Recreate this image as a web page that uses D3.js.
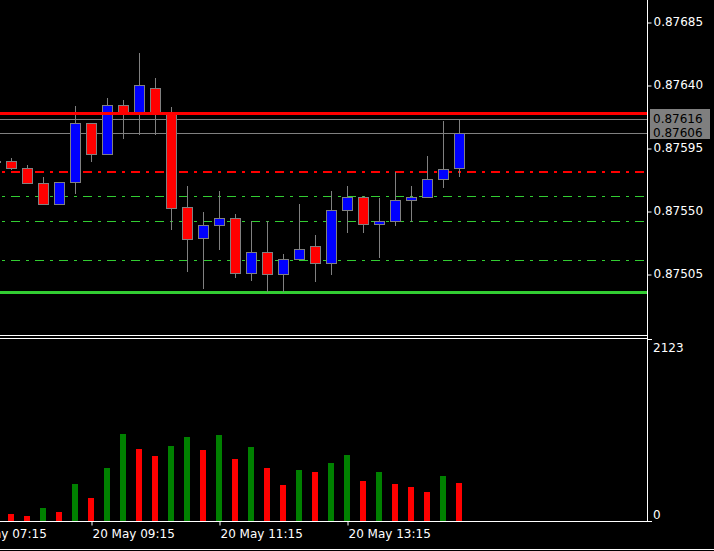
<!DOCTYPE html>
<html>
<head>
<meta charset="utf-8">
<script src="https://cdn.jsdelivr.net/npm/d3@7"></script>
<style>
  html, body { margin: 0; padding: 0; background: #000; }
  svg { display: block; }
  text { font-family: "DejaVu Sans", sans-serif; font-size: 12px; }
</style>
</head>
<body>
<div id="chart"></div>
<script>
// 15 minute bars, 20 May
const times   = ["07:45","08:00","08:15","08:30","08:45","09:00","09:15","09:30","09:45","10:00",
                 "10:15","10:30","10:45","11:00","11:15","11:30","11:45","12:00","12:15","12:30",
                 "12:45","13:00","13:15","13:30","13:45","14:00","14:15","14:30","14:45","15:00"]
const opens   = [0.87586,0.87586,0.87581,0.87570,0.87555,0.87571,0.87613,0.87591,0.87626,0.87620,
                 0.87638,0.87620,0.87553,0.87531,0.87540,0.87545,0.87506,0.87521,0.87505,0.87516,
                 0.87525,0.87513,0.87551,0.87560,0.87541,0.87543,0.87558,0.87560,0.87573,0.87581]
const highs   = [0.87587,0.87588,0.87583,0.87574,0.87571,0.87625,0.87613,0.87631,0.87629,0.87663,
                 0.87645,0.87624,0.87568,0.87549,0.87564,0.87548,0.87543,0.87543,0.87519,0.87555,
                 0.87533,0.87564,0.87568,0.87561,0.87559,0.87578,0.87568,0.87589,0.87614,0.87616]
const lows    = [0.87585,0.87580,0.87570,0.87555,0.87555,0.87563,0.87586,0.87591,0.87602,0.87605,
                 0.87605,0.87537,0.87507,0.87495,0.87523,0.87503,0.87501,0.87493,0.87493,0.87516,
                 0.87500,0.87505,0.87535,0.87535,0.87517,0.87540,0.87543,0.87560,0.87567,0.87575]
const closes  = [0.87586,0.87581,0.87570,0.87555,0.87571,0.87613,0.87591,0.87626,0.87621,0.87640,
                 0.87620,0.87552,0.87530,0.87540,0.87545,0.87506,0.87521,0.87505,0.87516,0.87523,
                 0.87513,0.87551,0.87560,0.87541,0.87543,0.87558,0.87560,0.87573,0.87580,0.87606]
const volumes = [120,82,58,152,105,432,268,618,1015,840,
                 758,875,980,828,1003,723,863,618,420,595,
                 572,677,770,467,572,432,397,338,525,443]

// horizontal levels
const resistance = 0.87620
const support = 0.87492
const pivot = 0.87578
const midLevels = [0.87561, 0.87543, 0.87515]
const ask = 0.87616
const bid = 0.87606

// axis ticks
const priceTicks = [0.87505, 0.87550, 0.87595, 0.87640, 0.87685]
const volumeTicks = [0, 2123]
const timeTicks = ["07:15", "09:15", "11:15", "13:15"]

const WIDTH = 714, HEIGHT = 551
const plotRight = 647
const mainBottom = 336
const volTop = 339, volBottom = 521

const parseTime = d3.timeParse("%Y-%m-%d %H:%M")
const toDate = t => parseTime("2024-05-20 " + t)

const bars = times.map((t, i) => ({
    date: toDate(t), open: opens[i], high: highs[i], low: lows[i], close: closes[i],
    volume: volumes[i], prev: i > 0 ? volumes[i - 1] : volumes[i]
}))

const svg = d3.select("#chart").append("svg")
    .attr("width", WIDTH).attr("height", HEIGHT)
    .style("background", "#000")

const x = d3.scaleTime()
    .domain([toDate("08:00"), toDate("15:00")])
    .range([11, 459])

const y = d3.scaleLinear()
    .domain([0.87505, 0.87685])
    .range([274, 22])

const yVol = d3.scaleLinear()
    .domain([0, 2123])
    .range([volBottom, volTop])

const px = v => Math.round(v) + 0.5

svg.append("clipPath").attr("id", "mainClip")
    .append("rect").attr("x", 0).attr("y", 0).attr("width", plotRight).attr("height", mainBottom)

const main = svg.append("g").attr("clip-path", "url(#mainClip)")

// dashed levels (behind candles)
const dash = "3,6,9,6"
main.selectAll(".mid")
    .data(midLevels)
    .enter().append("line")
    .attr("x1", 0).attr("x2", plotRight)
    .attr("y1", d => px(y(d))).attr("y2", d => px(y(d)))
    .attr("stroke", "#32cd32").attr("stroke-width", 1)
    .attr("stroke-dasharray", dash).attr("stroke-dashoffset", -2)

main.append("line")
    .attr("x1", 0).attr("x2", plotRight)
    .attr("y1", Math.round(y(pivot))).attr("y2", Math.round(y(pivot)))
    .attr("stroke", "#ff0000").attr("stroke-width", 2)
    .attr("stroke-dasharray", dash).attr("stroke-dashoffset", -2)

// bid / ask lines
main.selectAll(".quote")
    .data([ask, bid])
    .enter().append("line")
    .attr("x1", 0).attr("x2", plotRight)
    .attr("y1", d => px(y(d))).attr("y2", d => px(y(d)))
    .attr("stroke", "#808080").attr("stroke-width", 1)

main.append("line")
    .attr("x1", 0).attr("x2", plotRight)
    .attr("y1", px(y(support))).attr("y2", px(y(support)))
    .attr("stroke", "#32cd32").attr("stroke-width", 3)

// candles
const candle = main.selectAll(".candle")
    .data(bars)
    .enter().append("g")

candle.append("line")
    .attr("x1", d => px(x(d.date))).attr("x2", d => px(x(d.date)))
    .attr("y1", d => Math.round(y(d.high))).attr("y2", d => Math.round(y(d.low)) + 1)
    .attr("stroke", "#808080")

candle.append("rect")
    .attr("x", d => Math.round(x(d.date)) - 5 + 0.5)
    .attr("y", d => px(y(Math.max(d.open, d.close))))
    .attr("width", 10)
    .attr("height", d => Math.max(1, Math.round(Math.abs(y(d.open) - y(d.close)))))
    .attr("fill", d => d.close >= d.open ? "#0000ff" : "#ff0000")
    .attr("stroke", "#808080")

// resistance on top
main.append("line")
    .attr("x1", 0).attr("x2", plotRight)
    .attr("y1", px(y(resistance))).attr("y2", px(y(resistance)))
    .attr("stroke", "#ff0000").attr("stroke-width", 3)

// volumes
svg.append("g").selectAll("rect")
    .data(bars)
    .enter().append("rect")
    .attr("x", d => Math.round(x(d.date)) - 3)
    .attr("y", d => Math.round(yVol(d.volume)))
    .attr("width", 6)
    .attr("height", d => volBottom - Math.round(yVol(d.volume)))
    .attr("fill", d => d.volume > d.prev ? "#008000" : "#ff0000")
    .attr("clip-path", "url(#volClip)")

svg.append("clipPath").attr("id", "volClip")
    .append("rect").attr("x", 0).attr("y", volTop).attr("width", plotRight).attr("height", volBottom - volTop)

// frame
const frame = svg.append("g").attr("stroke", "#fff").attr("stroke-width", 1).attr("shape-rendering", "crispEdges")
frame.append("line").attr("x1", 0).attr("x2", plotRight + 1).attr("y1", 335.5).attr("y2", 335.5)
frame.append("line").attr("x1", 0).attr("x2", plotRight + 1).attr("y1", 338.5).attr("y2", 338.5)
frame.append("line").attr("x1", plotRight + 0.5).attr("x2", plotRight + 0.5).attr("y1", 0).attr("y2", volBottom + 1)
frame.append("line").attr("x1", 0).attr("x2", plotRight + 1).attr("y1", volBottom + 0.5).attr("y2", volBottom + 0.5)
frame.append("line").attr("x1", 0).attr("x2", WIDTH).attr("y1", 549.5).attr("y2", 549.5)

// price axis
const yAxis = d3.axisRight(y)
    .tickValues(priceTicks)
    .tickFormat(d3.format(".5f"))
    .tickSize(4)
    .tickPadding(2)
const gy = svg.append("g")
    .attr("transform", "translate(" + (plotRight + 0.5) + ",0)")
    .call(yAxis)
gy.select(".domain").remove()
gy.selectAll(".tick line").attr("stroke", "#fff").attr("transform", "translate(0,0.5)")
gy.selectAll(".tick text").attr("fill", "#fff").style("font-family", "DejaVu Sans").style("font-size", "12px")

// bid/ask label box
svg.append("rect")
    .attr("x", 650).attr("y", 109).attr("width", 60).attr("height", 30)
    .attr("fill", "#7f7f7f")
svg.selectAll(".quoteLabel")
    .data([ask, bid])
    .enter().append("text")
    .attr("x", 653)
    .attr("y", (d, i) => i === 0 ? 123 : 137)
    .attr("fill", "#000")
    .text(d => d3.format(".5f")(d))

// volume axis
const gv = svg.append("g")
volumeTicks.forEach(v => {
    const ty = px(yVol(v))
    gv.append("line").attr("x1", plotRight).attr("x2", plotRight + 5)
        .attr("y1", ty).attr("y2", ty).attr("stroke", "#fff")
    gv.append("text")
        .attr("x", 653)
        .attr("y", v === 0 ? ty - 3 : ty + 12)
        .attr("fill", "#fff")
        .text(v)
})

// time axis
const xAxis = d3.axisBottom(x)
    .tickValues(timeTicks.map(toDate))
    .tickFormat(d3.timeFormat("%d %b %H:%M"))
    .tickSize(4)
    .tickPadding(4)
const gx = svg.append("g")
    .attr("transform", "translate(0," + (volBottom + 0.5) + ")")
    .call(xAxis)
gx.select(".domain").remove()
gx.selectAll(".tick line").attr("stroke", "#fff").attr("transform", "translate(0.5,0)")
gx.selectAll(".tick text").attr("fill", "#fff").attr("text-anchor", "start").attr("x", 1)
    .style("font-family", "DejaVu Sans").style("font-size", "12px")
</script>
</body>
</html>
